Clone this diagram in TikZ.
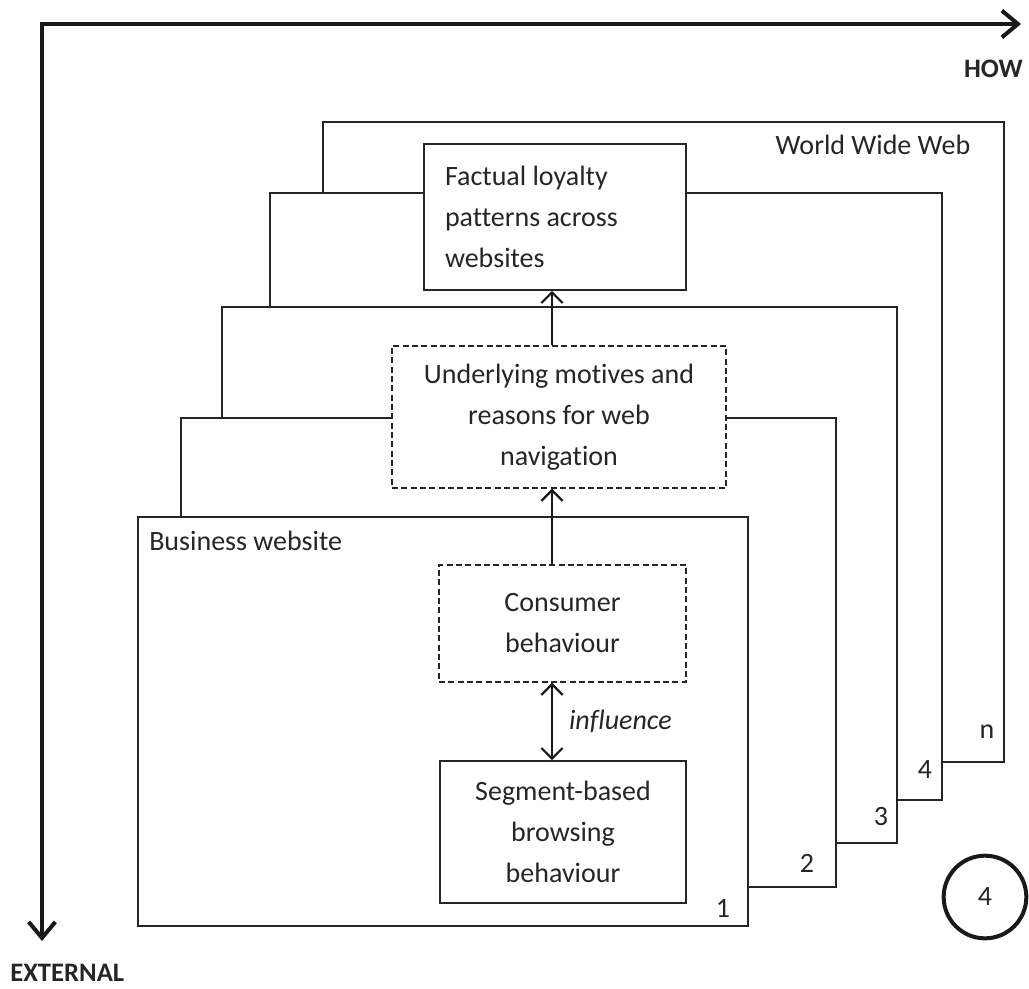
\documentclass[tikz,border=0pt]{standalone}
\usepackage{fontspec}
\setmainfont[Ligatures=NoCommon]{Carlito}
\usetikzlibrary{arrows.meta}
\begin{document}
\begin{tikzpicture}[x=0.75pt,y=-0.75pt,
  every node/.style={font=\fontsize{21pt}{30.75pt}\selectfont, inner sep=0pt, text=black!85},
  frame/.style={draw=black!85, line width=1.2pt, fill=white},
  solidbox/.style={draw=black!85, line width=1.2pt, fill=white, align=center},
  dashbox/.style={draw=black!85, line width=1.1pt, dash pattern=on 4.5pt off 2.5pt, fill=white, align=center},
  axisline/.style={line width=3pt, draw=black!90, line join=miter,
    {Straight Barb[length=12pt,width=20pt]}-{Straight Barb[length=12pt,width=20pt]}},
  flow/.style={line width=1.6pt, draw=black!90, -{Straight Barb[length=8pt,width=16pt]}},
  twoway/.style={line width=1.6pt, draw=black!90,
    {Straight Barb[length=8pt,width=16pt]}-{Straight Barb[length=8pt,width=16pt]}},
  axislabel/.style={font=\fontsize{20pt}{24pt}\selectfont\bfseries},
  tag/.style={}
]
\useasboundingbox (0,0) rectangle (1029,989);

% axes
\coordinate (origin) at (42,24);
\coordinate (howend) at (1021,24);
\coordinate (extend) at (42,941);
\draw[axisline] (extend) -- (origin) -- (howend);
\node[axislabel, anchor=base east] (how) at (1023,77) {HOW};
\node[axislabel, anchor=base west] (external) at (10,981) {EXTERNAL};

% stacked frames, back to front
\draw[frame] (323,122) rectangle (1004,762);
\draw[frame] (270,193) rectangle (942,800);
\draw[frame] (222,307) rectangle (897,843);
\draw[frame] (181,418) rectangle (836,887);
\draw[frame] (138,517) rectangle (748,926);

% frame labels
\node[tag] (www) at (873,145) {World Wide Web};
\node[tag, anchor=west] (biz) at (149,541) {Business website};
\node[tag] (num1) at (723,908) {1};
\node[tag] (num2) at (807,863) {2};
\node[tag] (num3) at (881,817) {3};
\node[tag] (num4) at (925,770) {4};
\node[tag] (numn) at (987,732) {n};

% content boxes
\node[solidbox, minimum width=196.5pt, minimum height=109.5pt, text width=165pt,
      align=flush left, inner xsep=15.75pt] (factual) at (555,217)
      {Factual loyalty\\patterns across\\websites};
\node[dashbox, minimum width=250.5pt, minimum height=106.5pt] (motives) at (559,417)
      {Underlying motives and\\reasons for web\\navigation};
\node[dashbox, minimum width=185.25pt, minimum height=87.75pt] (consumer) at (562.5,623.5)
      {Consumer\\behaviour};
\node[solidbox, minimum width=184.5pt, minimum height=106.5pt] (segment) at (563,832)
      {Segment-based\\browsing\\behaviour};

% connectors
\coordinate (spine) at (552,0);
\draw[flow] (consumer.north -| spine) -- (motives.south -| spine);
\draw[flow] (motives.north -| spine) -- (factual.south -| spine);
\draw[twoway] (consumer.south -| spine) -- (segment.north -| spine)
  node[midway, anchor=west, xshift=12pt, font=\fontsize{21pt}{25pt}\selectfont\itshape] (infl) {influence};

% page marker
\node[draw=black!90, circle, line width=3pt, minimum size=62pt] (page) at (985,897) {4};
\end{tikzpicture}
\end{document}
